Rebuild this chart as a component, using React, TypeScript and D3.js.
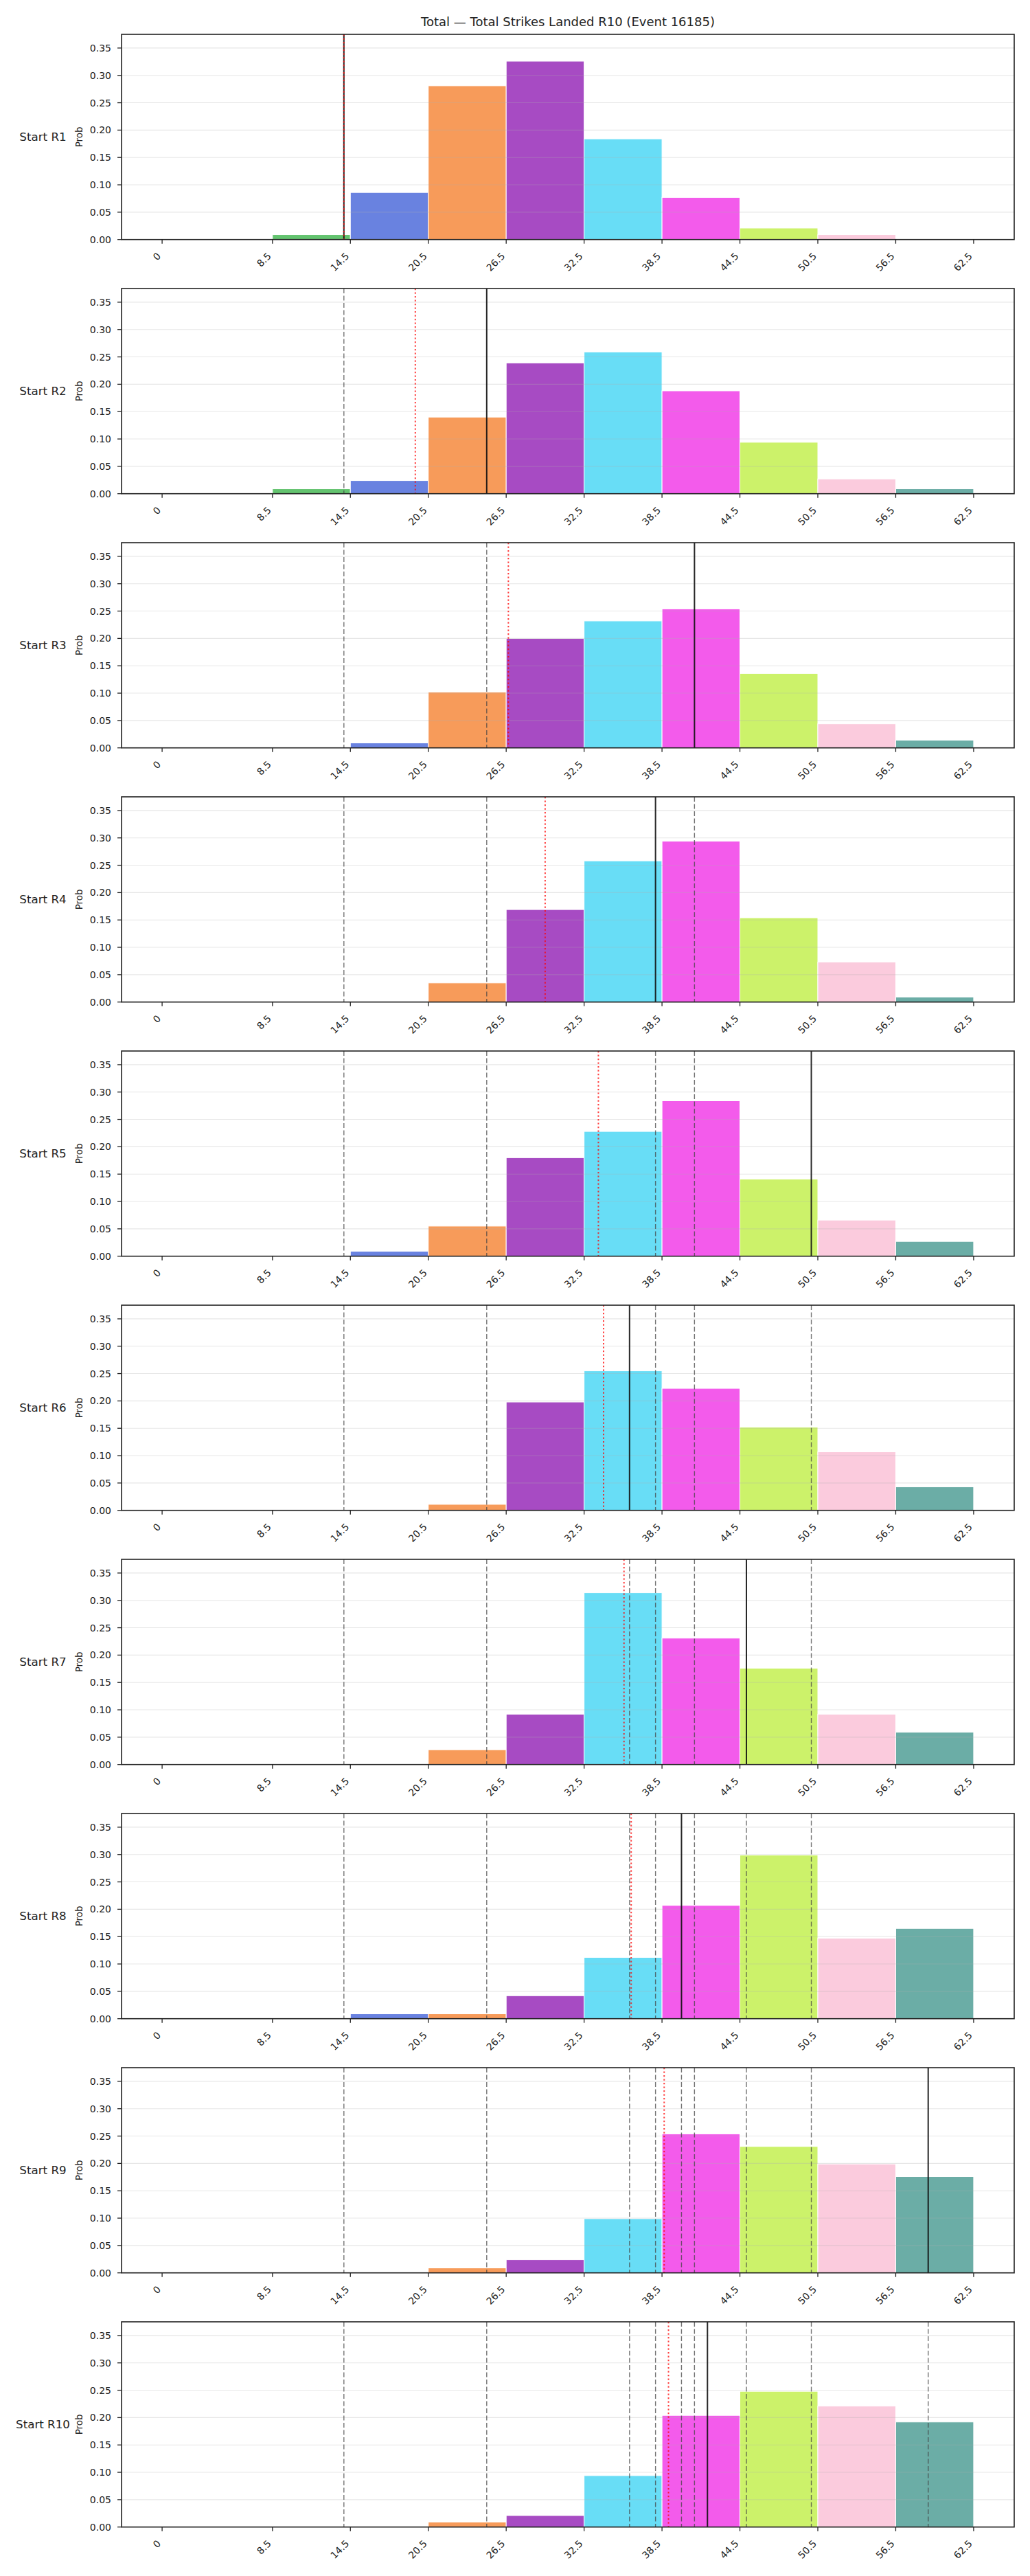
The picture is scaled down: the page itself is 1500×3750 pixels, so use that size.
import React from 'react';
import * as d3 from 'd3';

// Bin edges of the distribution (strikes landed) and their tick labels
const binEdges = [0, 8.5, 14.5, 20.5, 26.5, 32.5, 38.5, 44.5, 50.5, 56.5, 62.5];
const tickLabels = ['0', '8.5', '14.5', '20.5', '26.5', '32.5', '38.5', '44.5', '50.5', '56.5', '62.5'];
const yTicks = [0, 0.05, 0.1, 0.15, 0.2, 0.25, 0.3, 0.35];

const roundNames = ['Start R1', 'Start R2', 'Start R3', 'Start R4', 'Start R5', 'Start R6', 'Start R7', 'Start R8', 'Start R9', 'Start R10'];

// Probability of each bin, one list per round start
const probR1 = [0, 0.009, 0.086, 0.281, 0.326, 0.184, 0.077, 0.021, 0.009, 0];
const probR2 = [0, 0.009, 0.024, 0.140, 0.239, 0.259, 0.188, 0.094, 0.027, 0.009];
const probR3 = [0, 0, 0.009, 0.102, 0.200, 0.232, 0.254, 0.136, 0.044, 0.014];
const probR4 = [0, 0, 0, 0.035, 0.169, 0.258, 0.294, 0.154, 0.073, 0.009];
const probR5 = [0, 0, 0.009, 0.055, 0.180, 0.228, 0.284, 0.141, 0.066, 0.027];
const probR6 = [0, 0, 0, 0.011, 0.198, 0.255, 0.223, 0.152, 0.107, 0.043];
const probR7 = [0, 0, 0, 0.027, 0.092, 0.314, 0.231, 0.176, 0.092, 0.059];
const probR8 = [0, 0, 0.009, 0.009, 0.042, 0.112, 0.207, 0.299, 0.147, 0.165];
const probR9 = [0, 0, 0, 0.009, 0.024, 0.099, 0.254, 0.231, 0.199, 0.176];
const probR10 = [0, 0, 0, 0.009, 0.021, 0.094, 0.204, 0.248, 0.221, 0.192];
const roundProbs = [probR1, probR2, probR3, probR4, probR5, probR6, probR7, probR8, probR9, probR10];

// Observed total at each round start
const actualTotals = [14, 25, 41, 38, 50, 36, 45, 40, 59, 42];

const titleText = 'Total — Total Strikes Landed R10 (Event 16185)';

// Bin fill colours
const binColors = ['#e6194b', '#3cb44b', '#4363d8', '#f58231', '#911eb4', '#42d4f4', '#f032e6', '#bfef45', '#fabed4', '#469990'];

const W = 1500;
const H = 3750;
const axLeft = 177;
const axRight = 1477;
const firstTop = 50;
const panelStep = 370;
const panelH = 298.7;
const FONT = "'DejaVu Sans', sans-serif";
const INK = '#222';

const x = d3.scaleLinear().domain([-3.125, 65.625]).range([axLeft, axRight]);

function Panel({ k }: { k: number }) {
  const top = firstTop + k * panelStep;
  const bottom = top + panelH;
  const y = d3.scaleLinear().domain([0, 0.375]).range([bottom, top]);
  const probs = roundProbs[k];
  const prior = actualTotals.slice(0, k);
  const current = actualTotals[k];
  const runMean = d3.mean(actualTotals.slice(0, k + 1)) as number;
  const midY = (top + bottom) / 2;

  return (
    <g>
      {/* histogram bars */}
      {probs.map((p, i) =>
        p > 0 ? (
          <rect
            key={'b' + i}
            x={x(binEdges[i])}
            y={y(p)}
            width={x(binEdges[i + 1]) - x(binEdges[i])}
            height={y(0) - y(p)}
            fill={binColors[i]}
            fillOpacity={0.8}
            stroke="#fff"
            strokeWidth={1}
          />
        ) : null
      )}
      {/* horizontal grid */}
      {yTicks.map((t) => (
        <line key={'g' + t} x1={axLeft} x2={axRight} y1={y(t)} y2={y(t)} stroke="#b0b0b0" strokeOpacity={0.3} strokeWidth={1.1} />
      ))}
      {/* earlier round totals */}
      {prior.map((v, i) => (
        <line key={'p' + i} x1={x(v)} x2={x(v)} y1={top} y2={bottom} stroke="#444" strokeOpacity={0.75} strokeWidth={1.4} strokeDasharray="7 3.5" />
      ))}
      {/* current total */}
      <line x1={x(current)} x2={x(current)} y1={top} y2={bottom} stroke="#111" strokeOpacity={0.9} strokeWidth={2} />
      {/* running mean */}
      <line x1={x(runMean)} x2={x(runMean)} y1={top} y2={bottom} stroke="#ff0000" strokeOpacity={0.75} strokeWidth={2} strokeDasharray="2.2 3.3" />
      {/* axes frame */}
      <rect x={axLeft} y={top} width={axRight - axLeft} height={panelH} fill="none" stroke={INK} strokeWidth={1.6} />
      {/* y ticks */}
      {yTicks.map((t) => (
        <g key={'yt' + t}>
          <line x1={axLeft - 6} x2={axLeft} y1={y(t)} y2={y(t)} stroke={INK} strokeWidth={1.3} />
          <text x={axLeft - 15} y={y(t)} dy="0.36em" textAnchor="end" fontSize={14} fontFamily={FONT} fill={INK}>
            {d3.format('.2f')(t)}
          </text>
        </g>
      ))}
      {/* x ticks */}
      {binEdges.map((e, i) => (
        <g key={'xt' + i}>
          <line x1={x(e)} x2={x(e)} y1={bottom} y2={bottom + 6} stroke={INK} strokeWidth={1.3} />
          <text
            transform={`translate(${x(e) - 1},${bottom + 25}) rotate(-45)`}
            textAnchor="end"
            fontSize={14}
            fontFamily={FONT}
            fill={INK}
          >
            {tickLabels[i]}
          </text>
        </g>
      ))}
      <text transform={`translate(120,${midY}) rotate(-90)`} textAnchor="middle" fontSize={13.5} fontFamily={FONT} fill={INK}>
        Prob
      </text>
      <text x={62.5} y={midY} dy="0.36em" textAnchor="middle" fontSize={16.7} fontFamily={FONT} fill={INK}>
        {roundNames[k]}
      </text>
    </g>
  );
}

export default function App() {
  return (
    <svg width={W} height={H} style={{ position: 'absolute', left: 0, top: 0, background: '#fff' }}>
      <rect x={0} y={0} width={W} height={H} fill="#fff" />
      <text x={(axLeft + axRight) / 2} y={38} textAnchor="middle" fontSize={18} fontFamily={FONT} fill={INK}>
        {titleText}
      </text>
      {roundNames.map((_, k) => (
        <Panel key={k} k={k} />
      ))}
    </svg>
  );
}
